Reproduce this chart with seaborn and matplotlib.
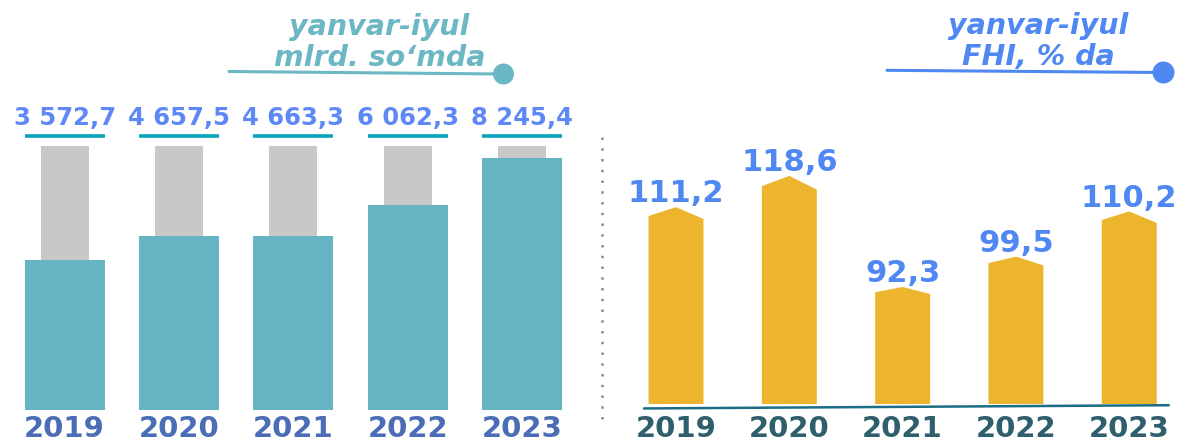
import numpy as np
import pandas as pd
import matplotlib.pyplot as plt
import matplotlib.transforms as mtransforms
import seaborn as sns
from matplotlib.patches import Circle, Polygon
from matplotlib.lines import Line2D

# chart data
years = ["2019", "2020", "2021", "2022", "2023"]
volume = [3572.7, 4657.5, 4663.3, 6062.3, 8245.4]   # yanvar-iyul, mlrd. so'm
volume_cap = 8800                                    # grey backdrop level
growth = [111.2, 118.6, 92.3, 99.5, 110.2]           # FHI, %

W, H = 1181, 441
sns.set_style("white")
plt.rcParams['font.family'] = ['DejaVu Sans']

fig = plt.figure(figsize=(W / 100, H / 100), dpi=100)


def fx(px):
    return px / W


def fy(py):
    return 1 - py / H


def inch(px, py):
    return px / 100, (H - py) / 100


def fmt_volume(v):
    return f"{v:,.1f}".replace(",", " ").replace(".", ",")


def fmt_growth(v):
    return f"{v:.1f}".replace(".", ",")


# ---- left panel: volume ----
axl = fig.add_axes([0, fy(410), 600 / W, 410 / H])
axl.patch.set_alpha(0)
base_l = -3317
df_l = pd.DataFrame({"year": years, "volume": volume})
df_l["h"] = df_l["volume"] - base_l
df_l["cap_h"] = volume_cap - base_l

sns.barplot(data=df_l, x="year", y="cap_h", bottom=base_l, width=0.42,
            color="#C8C8C8", saturation=1, linewidth=0, errorbar=None, ax=axl)
sns.barplot(data=df_l, x="year", y="h", bottom=base_l, width=0.70,
            color="#67B4C4", saturation=1, linewidth=0, errorbar=None, ax=axl)

axl.set_xlim(-0.565, 4.68)
axl.set_ylim(base_l, base_l + 410 / 0.02181)

blend_l = mtransforms.blended_transform_factory(axl.transData, axl.transAxes)
teal_bars = axl.patches[len(years):]
for p, v in zip(teal_bars, volume):
    x0, w = p.get_x(), p.get_width()
    axl.text(x0 + w / 2, 0.695, fmt_volume(v), transform=blend_l, ha='center',
             va='baseline', fontsize=17.5, fontweight='bold', color='#5F88F7')
    axl.plot([x0, x0 + w], [0.668, 0.668], transform=blend_l, color='#05A6BD',
             lw=2.6, solid_capstyle='butt')

# ---- right panel: growth ----
axr = fig.add_axes([600 / W, fy(404), 581 / W, 404 / H])
axr.patch.set_alpha(0)
base_r = 64.6
df_r = pd.DataFrame({"year": years, "growth": growth})
df_r["h"] = df_r["growth"] - base_r

sns.barplot(data=df_r, x="year", y="h", bottom=base_r, width=0.485,
            color="#EDB52D", saturation=1, linewidth=0, errorbar=None, ax=axr)

axr.set_xlim(-0.671, 4.457)
axr.set_ylim(base_r, base_r + 404 / 4.224)

# turn the rectangles into "house" shapes with a pointed roof
for p, v in zip(list(axr.patches), growth):
    x0, y0, w, h = p.get_x(), p.get_y(), p.get_width(), p.get_height()
    top = y0 + h
    d1, d2 = 0.045 * h, 0.06 * h
    verts = [(x0, y0), (x0, top - d1), (x0 + w / 2, top), (x0 + w, top - d2), (x0 + w, y0)]
    axr.add_patch(Polygon(verts, closed=True, facecolor=p.get_facecolor(), lw=0))
    p.remove()
    axr.annotate(fmt_growth(v), (x0 + w / 2, top), xytext=(0, 3.5),
                 textcoords='offset points', ha='center', va='baseline',
                 fontsize=22, fontweight='bold', color='#4F88F2')

axr.plot([0.0757, 0.979], [-0.011, -0.003], transform=axr.transAxes,
         color='#1B6E86', lw=1.8, clip_on=False)

# axes cosmetics
for ax, pad, col in [(axl, 3.6, '#4A6DB5'), (axr, 7.8, '#2F5E6D')]:
    ax.set_xlabel('')
    ax.set_ylabel('')
    ax.set_yticks([])
    ax.tick_params(axis='x', length=0, pad=pad, labelsize=21, labelcolor=col)
    for t in ax.get_xticklabels():
        t.set_fontweight('bold')
    sns.despine(ax=ax, left=True, bottom=True)

# ---- headers ----
title_kw = dict(ha='center', va='baseline', fontsize=20.5, fontweight='bold', fontstyle='italic')
fig.text(fx(379), fy(35), "yanvar-iyul", color='#6BB7C4', **title_kw)
fig.text(fx(379.5), fy(66), "mlrd. so\u2018mda", color='#6BB7C4', **title_kw)
fig.text(fx(1038.5), fy(34), "yanvar-iyul", color='#4F88F2', **title_kw)
fig.text(fx(1038.5), fy(65), "FHI, % da", color='#4F88F2', **title_kw)

for (xa, ya), (xb, yb), r, col in [((229, 71.5), (500, 74), 10.5, '#6BB7C4'),
                                   ((887, 70.3), (1160, 72.5), 11, '#4F88F2')]:
    (x1, y1), (x2, y2) = inch(xa, ya), inch(xb, yb)
    fig.add_artist(Line2D([x1, x2], [y1, y2], transform=fig.dpi_scale_trans,
                          color=col, lw=2.2))
    cx, cy = inch(xb + 3.5, yb)
    fig.add_artist(Circle((cx, cy), r / 100, transform=fig.dpi_scale_trans,
                          facecolor=col, lw=0))

# dotted separator between the panels
(sx, sy1), (_, sy2) = inch(602, 137), inch(602, 427)
fig.add_artist(Line2D([sx, sx], [sy1, sy2], transform=fig.dpi_scale_trans,
                      color='#8A8A8A', lw=1.8, linestyle=(0, (1, 3.3))))

fig.savefig('out.png', dpi=100)
